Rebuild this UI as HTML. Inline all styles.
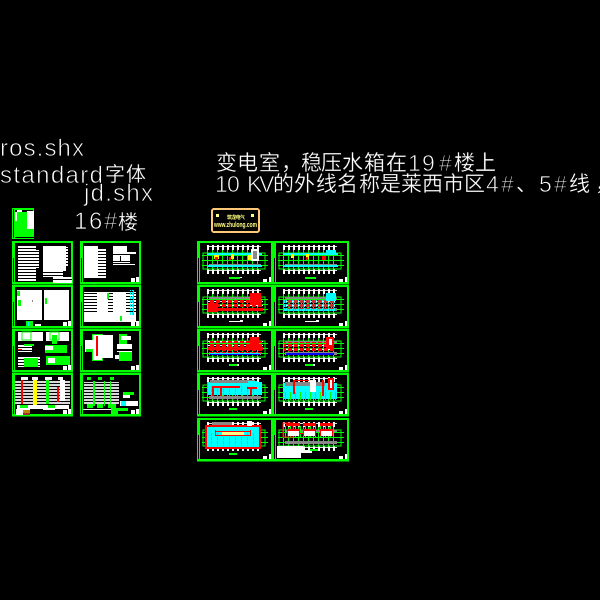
<!DOCTYPE html>
<html><head><meta charset="utf-8">
<style>
html,body{margin:0;padding:0;background:#000;width:600px;height:600px;overflow:hidden}
svg{display:block}
text{fill:#fff;font-family:"Liberation Sans","WenQuanYi Zen Hei","Noto Sans CJK SC",sans-serif}
.t{stroke:#000;stroke-width:.7}
.c{stroke:#000;stroke-width:.25;font-family:"Noto Sans CJK SC","WenQuanYi Zen Hei",sans-serif}
</style></head><body>
<svg width="600" height="600" viewBox="0 0 600 600" xmlns="http://www.w3.org/2000/svg" shape-rendering="crispEdges">
<defs>
<pattern id="tk" width="5" height="4" patternUnits="userSpaceOnUse"><rect width="2" height="4" fill="#fff"/><rect x="2" y="1" width="3" height="1" fill="#ddd"/></pattern>
<pattern id="vg" width="5" height="4" patternUnits="userSpaceOnUse"><rect width="1" height="4" fill="#0f0"/></pattern>
<pattern id="hl" width="4" height="3" patternUnits="userSpaceOnUse"><rect width="4" height="2" fill="#fff"/></pattern>
<pattern id="rd" width="6" height="4" patternUnits="userSpaceOnUse"><rect width="4" height="3" fill="#f00"/><rect x="4" y="1" width="2" height="1" fill="#fff"/></pattern>
<pattern id="cy" width="6" height="4" patternUnits="userSpaceOnUse"><rect width="5" height="3" fill="#0ff"/><rect x="1" y="1" width="1" height="3" fill="#0f0"/></pattern>
<g id="sf">
<rect width="61" height="43.5" fill="#0f0"/><rect x="3" y="2" width="56" height="39" fill="#000"/><rect x="1" y="17" width="1" height="24" fill="#000"/>
<rect x="51" y="37" width="4" height="4" fill="#fff"/><rect x="56" y="36" width="3" height="5" fill="#fff"/>
</g>
<g id="lf">
<rect width="76" height="43.5" fill="#0f0"/><rect x="3" y="2" width="71" height="39" fill="#000"/><rect x="1" y="17" width="1" height="24" fill="#000"/>
<rect x="66" y="38" width="4" height="3" fill="#fff"/><rect x="72" y="36" width="2" height="5" fill="#fff"/>
</g>
<g id="base">
<rect x="10" y="4" width="54" height="5" fill="url(#tk)"/>
<rect x="10" y="28" width="54" height="5" fill="url(#tk)"/>
<rect x="6" y="12" width="62" height="16" fill="none" stroke="#0f0"/>
<rect x="10" y="9" width="54" height="19" fill="url(#vg)"/>
<rect x="5" y="14" width="66" height="1" fill="#0f0"/><rect x="5" y="19" width="66" height="1" fill="#0f0"/><rect x="5" y="24" width="66" height="1" fill="#0f0"/>
<rect x="12" y="12" width="52" height="2" fill="#888"/>
<rect x="12" y="23" width="52" height="3" fill="#888"/>
</g>
</defs>
<rect width="600" height="600" fill="#000"/>

<text class="t" x="0" y="156" font-size="24" textLength="84" lengthAdjust="spacing">ros.shx</text>
<text class="t" x="0" y="183" font-size="24" textLength="103" lengthAdjust="spacing">standard</text>
<text class="c" x="105 126" y="181" font-size="20">字体</text>
<text class="t" x="84" y="201" font-size="24" textLength="69" lengthAdjust="spacing">jd.shx</text>
<text class="t" x="74 89 104" y="229" font-size="24">16#</text>
<text class="c" x="118" y="229" font-size="20">楼</text>

<text class="c" y="170" font-size="21" x="216 237 259 281 301 321 342 364 386">变电室，稳压水箱在</text>
<text class="t" y="171" font-size="23" x="408 422 439">19#</text>
<text class="c" y="170" font-size="21" x="454 475">楼上</text>

<text class="t" y="192" font-size="23" x="215 227 247 259">10KV</text>
<text class="c" y="191" font-size="21" x="273 294 316 337 359 380 401 422 443 464">的外线名称是莱西市区</text>
<text class="t" y="192" font-size="23" x="486 501">4#</text>
<text class="c" y="191" font-size="21" x="516">、</text>
<text class="t" y="192" font-size="23" x="539 554">5#</text>
<text class="c" y="191" font-size="21" x="569 595">线，</text>

<!-- cover -->
<rect x="12" y="208" width="22" height="31" fill="#0f0"/>
<rect x="13" y="209" width="1" height="29" fill="#000"/>
<rect x="15" y="210" width="18" height="2" fill="#000"/>
<rect x="15" y="212" width="2" height="9" fill="#fff"/><rect x="17" y="210" width="5" height="2" fill="#fff"/>
<rect x="27" y="211" width="7" height="18" fill="#fff"/><rect x="15" y="237" width="19" height="1" fill="#000"/>

<!-- left sheets -->
<use href="#sf" x="12" y="241"/><use href="#sf" x="80" y="241"/>
<rect x="18" y="246" width="18" height="35" fill="url(#hl)"/><rect x="36" y="250" width="3" height="18" fill="url(#hl)"/>
<rect x="43" y="246" width="23" height="25" fill="#fff"/><rect x="43" y="271" width="20" height="6" fill="url(#hl)"/>
<rect x="65" y="247" width="3" height="20" fill="url(#hl)"/><rect x="53" y="277" width="19" height="6" fill="#fff"/><rect x="53" y="279" width="19" height="1" fill="#000"/>
<rect x="84" y="246" width="14" height="32" fill="#fff"/><rect x="98" y="249" width="8" height="26" fill="url(#hl)"/><rect x="84" y="265" width="22" height="13" fill="url(#hl)"/>
<rect x="113" y="246" width="14" height="6" fill="#fff"/><rect x="113" y="252" width="23" height="3" fill="url(#hl)"/><rect x="113" y="255" width="17" height="8" fill="#fff"/><rect x="113" y="263" width="22" height="2" fill="url(#hl)"/><rect x="113" y="261" width="17" height="1" fill="#000"/><rect x="120" y="256" width="1" height="5" fill="#000"/>

<use href="#sf" x="12" y="285"/><use href="#sf" x="80" y="285"/>
<rect x="17" y="290" width="25" height="30" fill="#fff"/><rect x="44" y="290" width="25" height="30" fill="#fff"/>
<rect x="17" y="291" width="3" height="5" fill="#0f0"/><rect x="18" y="300" width="3" height="6" fill="#0f0"/><rect x="45" y="298" width="2" height="6" fill="#0f0"/><rect x="32" y="300" width="1" height="2" fill="#888"/>
<rect x="26" y="321" width="7" height="5" fill="#0f0"/><rect x="28" y="322" width="1" height="4" fill="#0ff"/><rect x="35" y="324" width="6" height="2" fill="#fff"/>
<rect x="84" y="292" width="52" height="21" fill="url(#hl)"/><rect x="84" y="313" width="52" height="9" fill="#fff"/>
<rect x="97" y="292" width="11" height="20" fill="#fff"/><rect x="113" y="292" width="13" height="20" fill="#fff"/>
<rect x="107" y="293" width="2" height="6" fill="#0f0"/><rect x="130" y="290" width="4" height="25" fill="url(#cy)"/><rect x="86" y="316" width="40" height="4" fill="url(#hl)"/><rect x="120" y="316" width="2" height="5" fill="#0f0"/>

<use href="#sf" x="12" y="329"/><use href="#sf" x="80" y="329"/>
<rect x="18" y="332" width="25" height="9" fill="#fff"/><rect x="46" y="332" width="23" height="9" fill="#fff"/>
<rect x="22" y="332" width="9" height="8" fill="none" stroke="#0f0"/><rect x="50" y="332" width="9" height="8" fill="none" stroke="#0f0"/><rect x="52" y="335" width="5" height="9" fill="#0f0"/>
<rect x="18" y="344" width="14" height="8" fill="url(#hl)"/><rect x="24" y="344" width="10" height="2" fill="#0f0"/><rect x="45" y="345" width="22" height="8" fill="#0f0"/><rect x="45" y="346" width="8" height="4" fill="#fff"/>
<rect x="18" y="349" width="4" height="1" fill="#f00"/><rect x="18" y="356" width="22" height="11" fill="url(#hl)"/><rect x="24" y="358" width="14" height="9" fill="#0f0"/><rect x="46" y="356" width="24" height="9" fill="#0f0"/><rect x="48" y="358" width="7" height="5" fill="#fff"/>
<rect x="92" y="334" width="11" height="27" fill="#0f0"/><rect x="93" y="335" width="9" height="25" fill="#fff"/><rect x="96" y="335" width="17" height="23" fill="#fff"/>
<rect x="96" y="336" width="2" height="20" fill="#f00"/><rect x="85" y="340" width="8" height="12" fill="#fff"/><rect x="86" y="349" width="7" height="3" fill="#0f0"/>
<rect x="119" y="334" width="8" height="14" fill="#0f0"/><rect x="121" y="336" width="10" height="4" fill="#fff"/><rect x="117" y="344" width="15" height="5" fill="#fff"/><rect x="119" y="352" width="13" height="9" fill="#0f0"/><rect x="117" y="351" width="15" height="1" fill="#fff"/><rect x="115" y="355" width="4" height="4" fill="#fff"/>

<use href="#sf" x="12" y="373"/><use href="#sf" x="80" y="373"/>
<rect x="15" y="380" width="55" height="24" fill="url(#hl)" opacity=".85"/>
<rect x="21" y="377" width="7" height="3" fill="#fff"/><rect x="32" y="377" width="6" height="3" fill="#fff"/><rect x="45" y="377" width="7" height="3" fill="#fff"/><rect x="58" y="377" width="5" height="3" fill="#fff"/>
<rect x="21" y="380" width="2" height="24" fill="#f00"/><rect x="33" y="380" width="4" height="26" fill="#ff0"/><rect x="46" y="380" width="3" height="24" fill="#0f0"/><rect x="57" y="387" width="2" height="15" fill="#f00"/><rect x="60" y="380" width="5" height="21" fill="#fff"/>
<rect x="17" y="405" width="52" height="4" fill="#fff"/><rect x="20" y="405" width="8" height="3" fill="#0f0"/><rect x="48" y="405" width="7" height="3" fill="#0f0"/>
<rect x="16" y="409" width="14" height="6" fill="#fff"/><rect x="23" y="410" width="7" height="3" fill="#b8860b"/><rect x="23" y="413" width="7" height="2" fill="#a52a2a"/><rect x="43" y="408" width="12" height="2" fill="#fff"/>
<rect x="84" y="382" width="35" height="23" fill="url(#hl)" opacity=".85"/>
<rect x="87" y="377" width="4" height="3" fill="#0f0"/><rect x="98" y="377" width="4" height="3" fill="#0f0"/><rect x="110" y="377" width="4" height="3" fill="#0f0"/>
<rect x="93" y="381" width="2" height="25" fill="#0f0"/><rect x="104" y="381" width="1" height="25" fill="#0f0"/><rect x="110" y="381" width="1" height="25" fill="#0f0"/>
<rect x="87" y="404" width="6" height="4" fill="#0f0"/><rect x="97" y="404" width="6" height="4" fill="#0f0"/><rect x="108" y="404" width="8" height="4" fill="#0f0"/>
<rect x="123" y="392" width="11" height="3" fill="#0f0"/><rect x="123" y="395" width="7" height="3" fill="#fff"/><rect x="120" y="401" width="18" height="5" fill="#fff"/><rect x="121" y="401" width="5" height="5" fill="#0ff"/>
<rect x="83" y="409" width="45" height="1" fill="#fff"/><rect x="111" y="408" width="17" height="3" fill="#0f0"/><rect x="111" y="411" width="7" height="3" fill="#0f0"/>

<!-- logo -->
<rect x="212" y="209" width="47" height="23" rx="2" fill="#000" stroke="#ffc878" stroke-width="2"/>
<rect x="216" y="214" width="3" height="3" fill="#ffff80"/><rect x="251" y="214" width="3" height="3" fill="#ffff80"/>
<text x="227" y="219" font-size="5" font-weight="bold" style="fill:#ffff80;font-family:'Noto Sans CJK SC',sans-serif" textLength="18">筑龙电气</text>
<text x="214" y="227" font-size="7" font-weight="bold" style="fill:#ffff80" textLength="43" lengthAdjust="spacingAndGlyphs">www.zhulong.com</text>

<!-- right sheets -->
<use href="#lf" x="197" y="241"/><use href="#lf" x="273" y="241"/>
<use href="#lf" x="197" y="285"/><use href="#lf" x="273" y="285"/>
<use href="#lf" x="197" y="329"/><use href="#lf" x="273" y="329"/>
<use href="#lf" x="197" y="373"/><use href="#lf" x="273" y="373"/>
<use href="#lf" x="197" y="418"/><use href="#lf" x="273" y="418"/>

<use href="#base" x="197" y="241"/>
<rect x="207" y="253" width="55" height="2" fill="#0ff"/><rect x="207" y="265" width="55" height="2" fill="#0ff"/>
<rect x="214" y="255" width="5" height="4" fill="#ff0"/><rect x="215" y="257" width="3" height="3" fill="#f00"/><rect x="231" y="254" width="3" height="5" fill="#ff0"/><rect x="229" y="257" width="2" height="3" fill="#f00"/><rect x="248" y="255" width="3" height="5" fill="#ff0"/><rect x="251" y="249" width="8" height="12" fill="#fff"/><rect x="253" y="251" width="4" height="8" fill="#888"/>
<rect x="229" y="277" width="11" height="2" fill="#0f0"/><rect x="240" y="277" width="2" height="1" fill="#fff"/>

<use href="#base" x="273" y="241"/>
<rect x="283" y="253" width="55" height="2" fill="#0ff"/><rect x="283" y="265" width="55" height="2" fill="#0ff"/>
<rect x="291" y="254" width="3" height="4" fill="#ff0"/><rect x="306" y="254" width="3" height="5" fill="#ff0"/><rect x="306" y="257" width="2" height="3" fill="#f00"/><rect x="322" y="256" width="4" height="4" fill="#f00"/><rect x="326" y="250" width="10" height="4" fill="#0ff"/>
<rect x="305" y="277" width="11" height="2" fill="#0f0"/>

<use href="#base" x="197" y="285"/>
<rect x="208" y="299" width="55" height="13" fill="url(#rd)"/><rect x="208" y="303" width="10" height="9" fill="#f00"/><rect x="208" y="308" width="55" height="3" fill="#f00"/><rect x="250" y="293" width="11" height="12" fill="#f00"/>
<rect x="229" y="321" width="11" height="1" fill="#fff"/><rect x="240" y="320" width="3" height="2" fill="#fff"/>

<use href="#base" x="273" y="285"/>
<rect x="284" y="299" width="52" height="12" fill="url(#cy)"/><rect x="285" y="300" width="50" height="9" fill="url(#rd)" opacity=".8"/><rect x="326" y="293" width="10" height="8" fill="#0ff"/>
<rect x="305" y="321" width="11" height="1" fill="#fff"/><rect x="316" y="320" width="3" height="2" fill="#fff"/>

<use href="#base" x="197" y="329"/>
<rect x="208" y="341" width="55" height="12" fill="url(#rd)"/><rect x="208" y="347" width="55" height="3" fill="#f00"/><rect x="250" y="337" width="9" height="12" fill="#f00"/><rect x="210" y="353" width="50" height="2" fill="#00f"/><rect x="210" y="353" width="50" height="1" fill="#0ff"/>
<rect x="229" y="364" width="8" height="2" fill="#0f0"/><rect x="237" y="364" width="2" height="2" fill="#fff"/>

<use href="#base" x="273" y="329"/>
<rect x="284" y="342" width="50" height="9" fill="url(#rd)"/><rect x="286" y="353" width="48" height="2" fill="#00f"/><rect x="326" y="337" width="8" height="12" fill="#f00"/><rect x="329" y="339" width="3" height="6" fill="#fff"/>
<rect x="305" y="364" width="8" height="2" fill="#0f0"/><rect x="313" y="364" width="2" height="2" fill="#fff"/>

<use href="#base" x="197" y="373"/>
<rect x="208" y="382" width="54" height="13" fill="#0ff"/><rect x="208" y="386" width="50" height="10" fill="url(#cy)"/><rect x="210" y="380" width="45" height="3" fill="#888"/>
<rect x="212" y="386" width="2" height="10" fill="#f00"/><rect x="220" y="387" width="2" height="9" fill="#f00"/><rect x="212" y="386" width="28" height="2" fill="#f00"/><rect x="247" y="387" width="10" height="2" fill="#f00"/><rect x="250" y="387" width="2" height="8" fill="#f00"/><rect x="248" y="381" width="9" height="4" fill="#0ff"/>
<rect x="229" y="408" width="8" height="2" fill="#0f0"/>

<use href="#base" x="273" y="373"/>
<rect x="283" y="383" width="54" height="16" fill="#0ff"/><rect x="283" y="392" width="53" height="8" fill="url(#vg)"/><rect x="285" y="382" width="40" height="4" fill="#888"/>
<rect x="293" y="380" width="2" height="14" fill="#f00"/><rect x="293" y="380" width="16" height="1" fill="#f00"/><rect x="310" y="380" width="6" height="12" fill="#fff"/><rect x="322" y="380" width="2" height="16" fill="#f00"/><rect x="328" y="378" width="6" height="12" fill="#f00"/><rect x="330" y="380" width="2" height="8" fill="#fff"/>
<rect x="305" y="408" width="8" height="2" fill="#0f0"/>

<use href="#base" x="197" y="418"/>
<rect x="206" y="426" width="54" height="22" fill="#0ff"/><rect x="208" y="433" width="50" height="13" fill="url(#cy)"/>
<rect x="206" y="426" width="54" height="22" fill="none" stroke="#f00" stroke-width="2"/>
<rect x="215" y="431" width="36" height="1" fill="#f00"/><rect x="215" y="435" width="36" height="1" fill="#f00"/><rect x="215" y="430" width="1" height="6" fill="#f00"/><rect x="250" y="430" width="1" height="6" fill="#f00"/><rect x="222" y="432" width="22" height="3" fill="#ff8"/><rect x="212" y="422" width="20" height="3" fill="#888"/><rect x="247" y="421" width="5" height="5" fill="#fff"/>
<rect x="229" y="453" width="8" height="2" fill="#0f0"/>

<use href="#base" x="273" y="418"/>
<rect x="283" y="426" width="52" height="12" fill="url(#vg)"/>
<rect x="283" y="423" width="10" height="14" fill="none" stroke="#f00"/><rect x="297" y="433" width="10" height="1" fill="#f00"/>
<rect x="287" y="429" width="13" height="7" fill="#f00"/><rect x="288" y="431" width="11" height="5" fill="#fff"/>
<rect x="303" y="429" width="13" height="7" fill="#f00"/><rect x="304" y="431" width="11" height="5" fill="#fff"/>
<rect x="320" y="429" width="13" height="7" fill="#f00"/><rect x="321" y="431" width="11" height="5" fill="#fff"/>
<rect x="286" y="423" width="14" height="3" fill="#f00"/><rect x="303" y="423" width="13" height="3" fill="#f00"/><rect x="320" y="423" width="13" height="3" fill="#f00"/>
<rect x="277" y="450" width="24" height="8" fill="#fff"/><rect x="277" y="446" width="26" height="6" fill="#fff"/><rect x="301" y="450" width="11" height="3" fill="#fff"/>
<rect x="310" y="449" width="8" height="2" fill="#0f0"/>
</svg>
</body></html>
